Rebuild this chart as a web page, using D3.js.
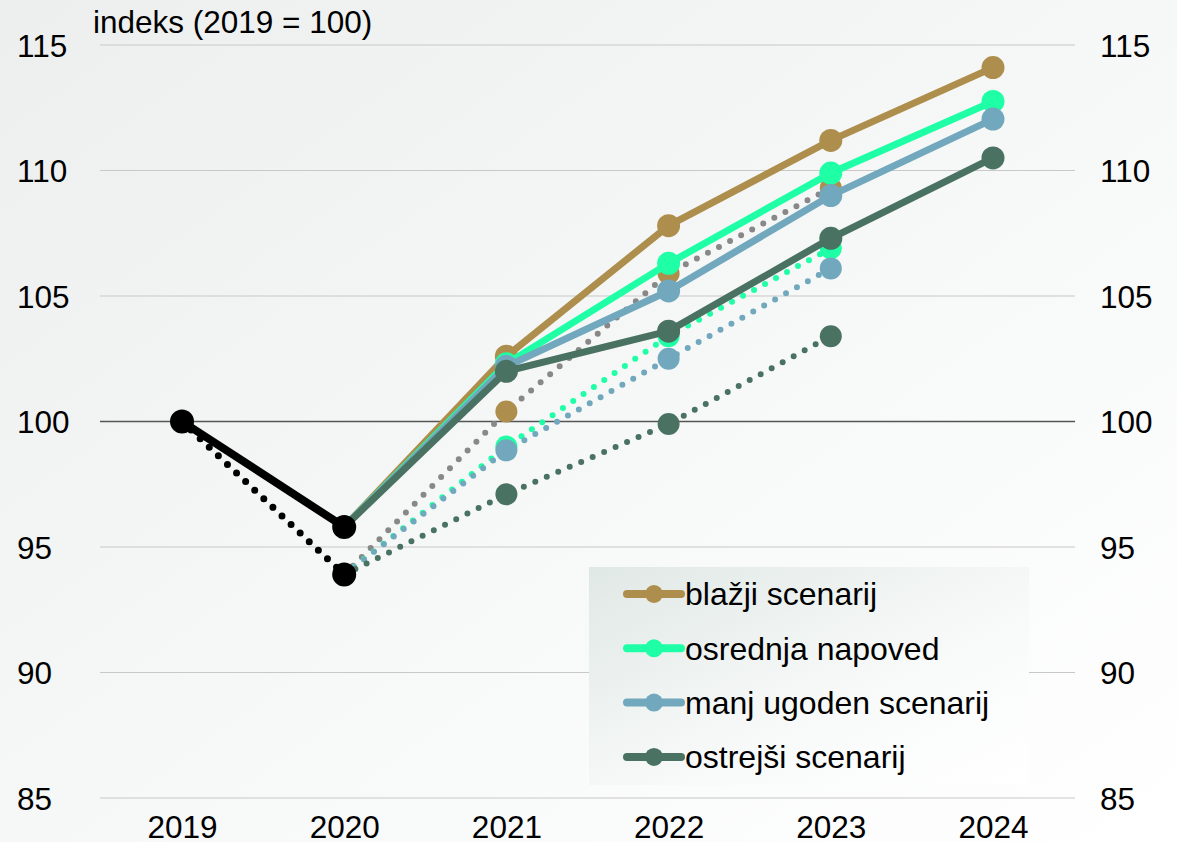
<!DOCTYPE html>
<html><head><meta charset="utf-8">
<script src="https://cdn.jsdelivr.net/npm/d3@7"></script>
<style>body{margin:0;background:#fff}svg{display:block;font-family:Arial,"Liberation Sans",sans-serif}</style>
</head><body>
<svg id="c" width="1177" height="842"></svg>
<script>
const years = ["2019","2020","2021","2022","2023","2024"];
const yTicks = [85,90,95,100,105,110,115];
const titleText = "indeks (2019 = 100)";
// actual (solid) history 2019-2020
const histYears = ["2019","2020"];
const histValues = [100, 95.8];
const histPrevValues = [100, 93.9];
// current projections 2020-2024
const projYears = ["2020","2021","2022","2023","2024"];
const blazji   = [95.8, 102.6, 107.8, 111.2, 114.1];
const osrednja = [95.8, 102.3, 106.3, 109.9, 112.75];
const manj     = [95.8, 102.2, 105.2, 109.0, 112.05];
const ostrejsi = [95.8, 102.0, 103.6, 107.3, 110.5];
// previous projections 2020-2023 (dotted)
const prevYears = ["2020","2021","2022","2023"];
const blazjiPrev   = [93.9, 100.4, 105.9, 109.3];
const osrednjaPrev = [93.9, 99.0, 103.4, 106.9];
const manjPrev     = [93.9, 98.85, 102.5, 106.1];
const ostrejsiPrev = [93.9, 97.1, 99.9, 103.4];
const seriesNames = ["blažji scenarij","osrednja napoved","manj ugoden scenarij","ostrejši scenarij"];
const seriesColors = ["#AE8E4C","#1FFFA6","#72A8BD","#4A7262"];
const prevLineColors = ["#888888","#1FFFA6","#72A8BD","#4A7262"];

const FS = 31.5;
const svg = d3.select("#c");
const defs = svg.append("defs");
const bg = defs.append("linearGradient").attr("id","bg").attr("x1","0").attr("y1","0").attr("x2","1").attr("y2","1");
bg.append("stop").attr("offset","0").attr("stop-color","#ECEFEE");
bg.append("stop").attr("offset","0.55").attr("stop-color","#F7F8F8");
bg.append("stop").attr("offset","1").attr("stop-color","#FFFFFF");
const lg = defs.append("linearGradient").attr("id","lg").attr("x1","0").attr("y1","0").attr("x2","1").attr("y2","1");
lg.append("stop").attr("offset","0").attr("stop-color","#E0E8E5");
lg.append("stop").attr("offset","0.6").attr("stop-color","#F8FAF9");
lg.append("stop").attr("offset","1").attr("stop-color","#FFFFFF");

svg.append("rect").attr("width",1177).attr("height",842).attr("fill","url(#bg)");

const x = d3.scalePoint().domain(years).range([182, 993]);
const y = d3.scaleLinear().domain([85,115]).range([798,45]);
const gx0 = 100, gx1 = 1075;

// gridlines
svg.append("g").selectAll("line").data(yTicks).join("line")
  .attr("x1",gx0).attr("x2",gx1).attr("y1",d=>y(d)).attr("y2",d=>y(d))
  .attr("stroke",d=>d===100?"#555":"#C8C8C8").attr("stroke-width",d=>d===100?1.5:1.2);

// left axis
const yl = svg.append("g").attr("transform","translate(17,0)")
  .call(d3.axisRight(y).tickValues(yTicks).tickSize(0).tickPadding(0));
yl.select(".domain").remove();
yl.selectAll("text").attr("font-size",FS).attr("fill","#000").attr("dy","0.35em");
// right axis
const yr = svg.append("g").attr("transform","translate(1100,0)")
  .call(d3.axisRight(y).tickValues(yTicks).tickSize(0).tickPadding(0));
yr.select(".domain").remove();
yr.selectAll("text").attr("font-size",FS).attr("fill","#000").attr("dy","0.35em");
// x axis
const xa = svg.append("g").attr("transform","translate(0,816)")
  .call(d3.axisBottom(x).tickSize(0).tickPadding(0));
xa.select(".domain").remove();
xa.selectAll("text").attr("font-size",FS).attr("fill","#000").attr("dy","0.71em");

svg.append("text").attr("x",93).attr("y",33).attr("font-size",FS).attr("fill","#000").text(titleText);

const line = d3.line().x(d=>x(d[0])).y(d=>y(d[1]));
const zip = (ks,vs)=>ks.map((k,i)=>[k,vs[i]]);

// previous (dotted)
const prevs = [blazjiPrev, osrednjaPrev, manjPrev, ostrejsiPrev];
prevs.forEach((vals,i)=>{
  svg.append("path").attr("d",line(zip(prevYears,vals))).attr("fill","none")
    .attr("stroke",prevLineColors[i]).attr("stroke-width",6).attr("stroke-linecap","round")
    .attr("stroke-dasharray","0,12.5");
});
prevs.forEach((vals,i)=>{
  svg.append("g").selectAll("circle").data(zip(prevYears,vals).slice(1)).join("circle")
    .attr("cx",d=>x(d[0])).attr("cy",d=>y(d[1])).attr("r",11).attr("fill",seriesColors[i]);
});
// black dotted history
svg.append("path").attr("d",line(zip(histYears,histPrevValues))).attr("fill","none")
  .attr("stroke","#000").attr("stroke-width",7).attr("stroke-linecap","round").attr("stroke-dasharray","0,12.5");

// current (solid)
const curs = [blazji, osrednja, manj, ostrejsi];
curs.forEach((vals,i)=>{
  svg.append("path").attr("d",line(zip(projYears,vals))).attr("fill","none")
    .attr("stroke",seriesColors[i]).attr("stroke-width",7).attr("stroke-linejoin","round");
  svg.append("g").selectAll("circle").data(zip(projYears,vals).slice(1)).join("circle")
    .attr("cx",d=>x(d[0])).attr("cy",d=>y(d[1])).attr("r",11.5).attr("fill",seriesColors[i]);
});
// black solid history
svg.append("path").attr("d",line(zip(histYears,histValues))).attr("fill","none")
  .attr("stroke","#000").attr("stroke-width",8);
svg.append("g").selectAll("circle").data(zip(histYears,histValues).concat([[histYears[1],histPrevValues[1]]])).join("circle")
  .attr("cx",d=>x(d[0])).attr("cy",d=>y(d[1])).attr("r",12).attr("fill","#000");

// legend
const leg = svg.append("g").attr("transform","translate(589,567)");
leg.append("rect").attr("width",440).attr("height",218).attr("fill","url(#lg)");
seriesNames.forEach((n,i)=>{
  const g = leg.append("g").attr("transform",`translate(0,${27+i*54.3})`);
  g.append("line").attr("x1",38).attr("x2",92).attr("stroke",seriesColors[i]).attr("stroke-width",8).attr("stroke-linecap","round");
  g.append("circle").attr("cx",65).attr("r",9).attr("fill",seriesColors[i]);
  g.append("text").attr("x",96).attr("dy","0.35em").attr("font-size",32).attr("fill","#000").text(n);
});
</script>
</body></html>
